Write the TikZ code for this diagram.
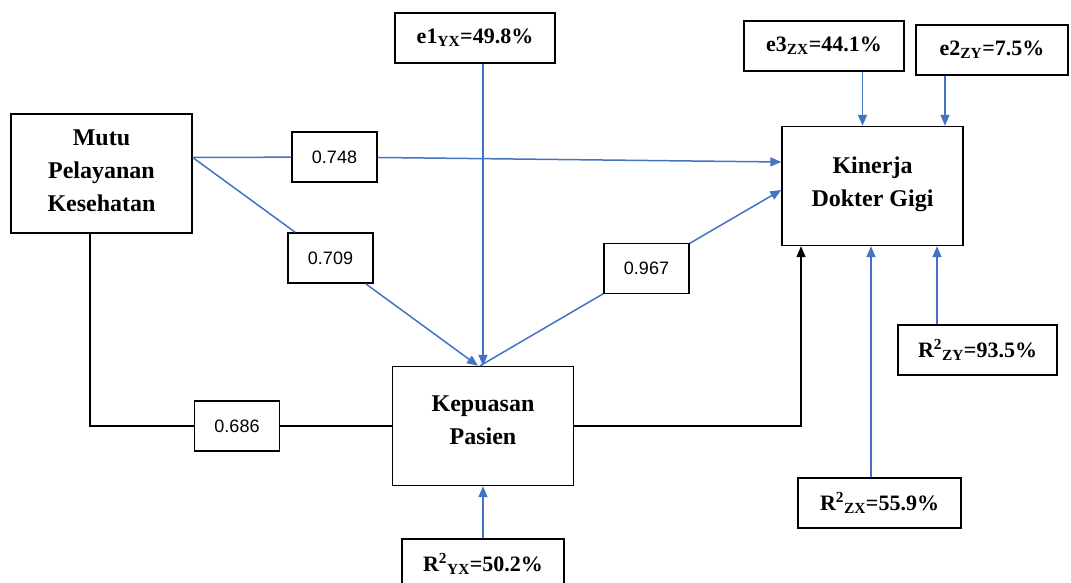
\documentclass[tikz,border=0pt]{standalone}
\usepackage{fontspec}
\setmainfont{Liberation Serif}
\setsansfont{Liberation Sans}
\usetikzlibrary{positioning,arrows.meta}
\definecolor{pathblue}{RGB}{68,114,196}

\begin{document}
\begin{tikzpicture}
	[x=1pt,y=-1pt,>={Triangle[length=11pt,width=9pt]},
	varbox/.style={rectangle,draw=black,line width=1.4pt,fill=white,align=center,inner sep=0pt,minimum width=181pt,minimum height=119pt,font=\fontsize{24}{33}\selectfont\bfseries},
	coefbox/.style={rectangle,draw=black,line width=1.4pt,fill=white,inner sep=0pt,minimum width=85pt,minimum height=50pt,font=\fontsize{18}{20}\selectfont\sffamily},
	errbox/.style={rectangle,draw=black,line width=1.4pt,fill=white,inner sep=0pt,minimum width=160pt,minimum height=50pt,font=\fontsize{22}{24}\selectfont\bfseries},
	blueline/.style={draw=pathblue,line width=1.5pt},
	blackline/.style={draw=black,line width=1.4pt}]
		\useasboundingbox (0,0) rectangle (1071,583);

		% variables
		\node [varbox] (mutu) at (101.5,173.5) {Mutu\\Pelayanan\\Kesehatan\vphantom{g}};
		\node [varbox] (kep) at (483,426) {Kepuasan\\Pasien\vphantom{g}\\[-22pt]};
		\node [varbox] (kin) at (872.5,186) {Kinerja\\Dokter Gigi\\[-24pt]};

		% path coefficients
		\node [coefbox] (n748) at (334.5,157) {0.748};
		\node [coefbox] (n709) at (330.5,258) {0.709};
		\node [coefbox] (n686) at (237,426) {0.686};
		\node [coefbox] (n967) at (646.5,268.5) {0.967};

		% errors and R square
		\node [errbox] (e1) at (475,38) {e1\textsubscript{YX}=49.8\%};
		\node [errbox] (e3) at (824,46) {e3\textsubscript{ZX}=44.1\%};
		\node [errbox,minimum width=152pt] (e2) at (992,50) {e2\textsubscript{ZY}=7.5\%};
		\node [errbox,minimum width=159pt] (rzy) at (977.5,350) {R\textsuperscript{2}\textsubscript{ZY}=93.5\%};
		\node [errbox,minimum width=163pt] (rzx) at (879.5,503) {R\textsuperscript{2}\textsubscript{ZX}=55.9\%};
		\node [errbox,minimum width=162pt] (ryx) [below=52pt of kep] {R\textsuperscript{2}\textsubscript{YX}=50.2\%};

		\coordinate (k3) at ([xshift=-10pt]kin.north);
		\coordinate (k2) at ([xshift=72.5pt]kin.north);
		\coordinate (k4) at ([xshift=64.5pt]kin.south);
		\coordinate (k5) at ([xshift=-1.5pt]kin.south);
		\coordinate (k6) at ([xshift=-71.5pt]kin.south);

		\draw [blueline,->] ([yshift=16pt]mutu.east) -- (n748) -- ([yshift=24pt]kin.west);
		\draw [blueline,->] ([yshift=16pt]mutu.east) -- (n709) -- ([xshift=-5pt]kep.north);
		\draw [blueline,->] ([xshift=-3pt]kep.north) -- (n967) -- ([yshift=-4pt]kin.west);
		\draw [blueline,->] (kep.north |- e1.south) -- (kep.north);
		\draw [blueline,->] (k3 |- e3.south) -- (k3);
		\draw [blueline,->] (k2 |- e2.south) -- (k2);
		\draw [blueline,->] (k4 |- rzy.north) -- (k4);
		\draw [blueline,->] (k5 |- rzx.north) -- (k5);
		\draw [blueline,->] (ryx) -- (kep);

		\draw [blackline] ([xshift=-11.5pt]mutu.south) |- (n686) -- (kep);
		\draw [blackline,->] (kep.east) -| (k6);
	\end{tikzpicture}
\end{document}
